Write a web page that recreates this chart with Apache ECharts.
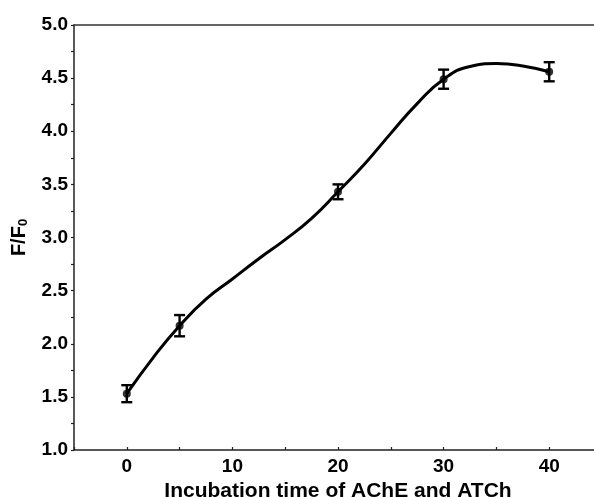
<!DOCTYPE html>
<html>
<head>
<meta charset="utf-8">
<script src="https://cdn.jsdelivr.net/npm/echarts@6/dist/echarts.min.js"></script>
<style>html,body{margin:0;padding:0;background:#fff}#c{width:594px;height:497px}</style>
</head>
<body>
<div id="c"></div>
<script>
// Measured points
var times = [0, 5, 20, 30, 40];
var means = [1.53, 2.17, 3.43, 4.49, 4.56];
var errs = [0.08, 0.10, 0.07, 0.09, 0.09];
// Fitted curve
var curveX = [0, 2.5, 5, 7.5, 10, 12.5, 15, 17.5, 20, 22.5, 25, 27.5, 30, 32.5, 35, 37.5, 40];
var curveY = [1.53, 1.87, 2.17, 2.42, 2.61, 2.80, 2.98, 3.18, 3.43, 3.69, 3.98, 4.26, 4.49, 4.61, 4.637, 4.615, 4.56];
// Axis ticks
var xTicks = [0, 10, 20, 30, 40];
var yTicks = [1.0, 1.5, 2.0, 2.5, 3.0, 3.5, 4.0, 4.5, 5.0];

var pts = times.map(function (t, i) { return [t, means[i]]; });
var errData = times.map(function (t, i) { return [t, means[i] - errs[i], means[i] + errs[i]]; });
var curve = curveX.map(function (t, i) { return [t, curveY[i]]; });

var font = 'Liberation Sans, Arial, sans-serif';
var chart = echarts.init(document.getElementById('c'));
chart.setOption({
  animation: false,
  backgroundColor: '#fff',
  grid: { left: 74, top: 25, bottom: 47, right: -8, containLabel: false, outerBoundsMode: 'none' },
  xAxis: [{
    type: 'value', min: -5, max: 45, interval: 5,
    axisLine: { show: true, onZero: false, lineStyle: { color: '#222', width: 1.5 } },
    axisTick: { show: true, inside: true, length: 3, lineStyle: { color: '#222', width: 1.2 } },
    splitLine: { show: false },
    axisLabel: {
      margin: 7, color: '#000', fontFamily: font, fontWeight: 'bold', fontSize: 19,
      formatter: function (v) { return xTicks.indexOf(v) >= 0 ? String(v) : ''; }
    },
    name: 'Incubation time of AChE and ATCh',
    nameLocation: 'middle', nameGap: 21,
    nameTextStyle: { color: '#000', fontFamily: font, fontWeight: 'bold', fontSize: 21 }
  }, {
    type: 'value', position: 'top', min: -5, max: 45,
    axisLine: { show: true, onZero: false, lineStyle: { color: '#333', width: 1.5 } },
    axisTick: { show: false }, axisLabel: { show: false }, splitLine: { show: false }
  }],
  yAxis: {
    type: 'value', min: 1, max: 5, interval: 0.25,
    axisLine: { show: true, onZero: false, lineStyle: { color: '#222', width: 1.5 } },
    axisTick: { show: true, inside: false, length: 3, lineStyle: { color: '#222', width: 1.2 } },
    splitLine: { show: false },
    axisLabel: {
      margin: 6, color: '#000', fontFamily: font, fontWeight: 'bold', fontSize: 19,
      formatter: function (v) {
        for (var i = 0; i < yTicks.length; i++) { if (Math.abs(yTicks[i] - v) < 1e-6) return v.toFixed(1); }
        return '';
      }
    },
    name: '{a|F/F}{b|0}',
    nameLocation: 'middle', nameGap: 44, nameRotate: 90,
    nameTextStyle: {
      rich: {
        a: { color: '#000', fontFamily: font, fontWeight: 'bold', fontSize: 20 },
        b: { color: '#000', fontFamily: font, fontWeight: 'bold', fontSize: 13, padding: [9, 0, 0, 0] }
      }
    }
  },
  series: [{
    type: 'line', data: curve, smooth: 0.5, showSymbol: false, symbol: 'none',
    lineStyle: { color: '#000', width: 3 }, z: 2
  }, {
    type: 'custom', data: errData, z: 3,
    renderItem: function (params, api) {
      var x = api.value(0);
      var lo = api.coord([x, api.value(1)]);
      var hi = api.coord([x, api.value(2)]);
      var w = 5.5;
      var st = { stroke: '#000', lineWidth: 2.4 };
      return { type: 'group', children: [
        { type: 'line', shape: { x1: lo[0], y1: lo[1], x2: hi[0], y2: hi[1] }, style: st },
        { type: 'line', shape: { x1: lo[0] - w, y1: lo[1], x2: lo[0] + w, y2: lo[1] }, style: st },
        { type: 'line', shape: { x1: hi[0] - w, y1: hi[1], x2: hi[0] + w, y2: hi[1] }, style: st }
      ] };
    }
  }, {
    type: 'scatter', data: pts, symbol: 'circle', symbolSize: 8,
    itemStyle: { color: '#000' }, z: 4
  }]
});
</script>
</body>
</html>
